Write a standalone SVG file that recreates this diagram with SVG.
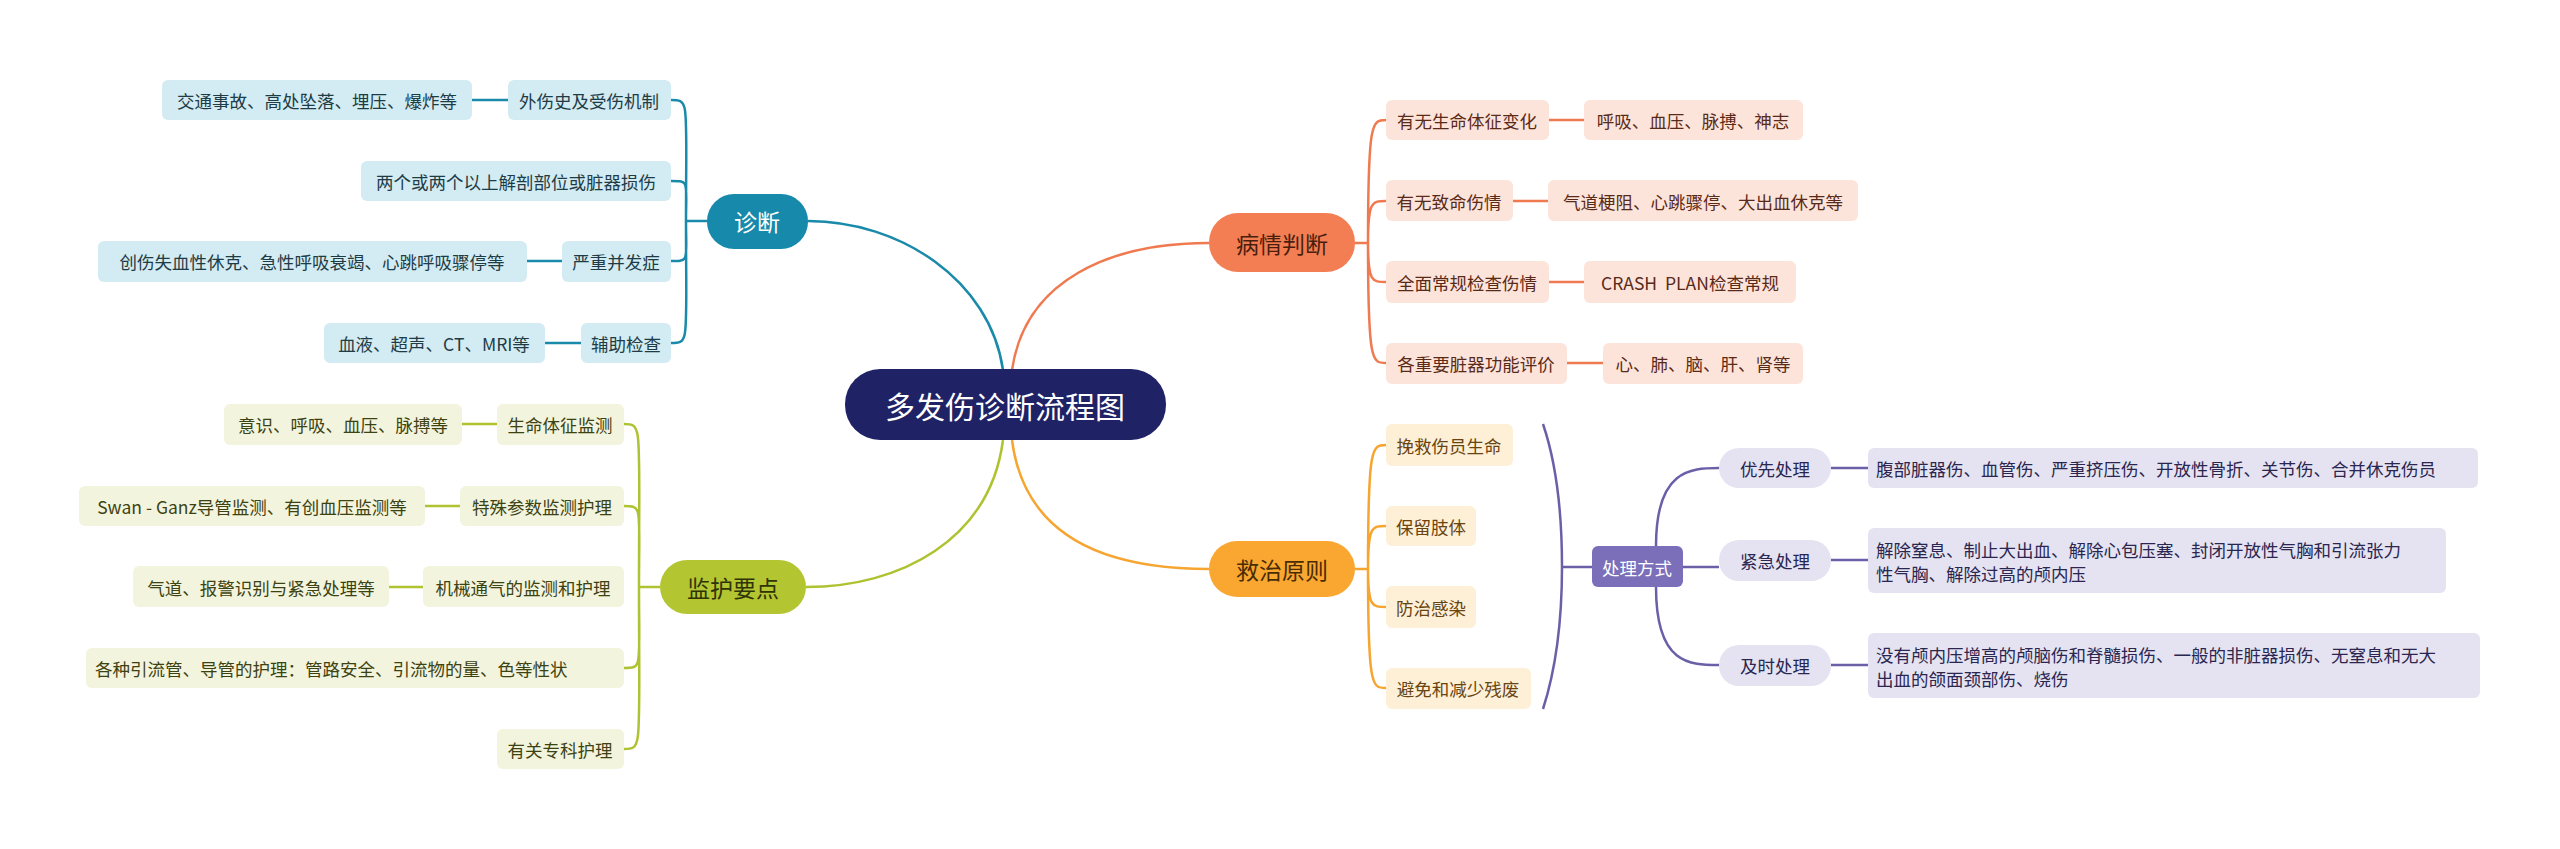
<svg xmlns="http://www.w3.org/2000/svg" width="2560" height="849" viewBox="0 0 2560 849">
<style>
text{font-family:"Noto Sans CJK SC","Noto Sans",sans-serif;font-size:17.5px;dominant-baseline:central}
text.big{font-size:30px}
text.mid{font-size:23px}
.c path{fill:none;stroke-width:2.5}
.bl{fill:#d3ebf2}.yl{fill:#f2f4dd}.rd{fill:#fde4da}.or{fill:#fdf0d7}.pu{fill:#e5e3f1}
.tb{fill:#1e3c46}.ty{fill:#3d4212}.tr{fill:#5a2a18}.to{fill:#6a4410}.tp{fill:#2a2650}
</style>
<rect width="2560" height="849" fill="#fff"/>
<g class="c">
<path d="M1003,370 C990,280 900,221 808,221" stroke="#1a8aaa"/>
<path d="M707,221 H686 M686,221 C686,100 690,100 671,100 M686,221 C686,181 690,181 671,181 M686,221 C686,261 690,261 671,261 M686,221 C686,343 690,343 671,343 M472,100 H508 M527,261 H562 M545,343 H581" stroke="#1a8aaa"/>
<path d="M1003,440 C990,540 900,587 806,587" stroke="#afc230"/>
<path d="M660,587 H639 M639,587 C639,424 643,424 624,424 M639,587 C639,506 643,506 624,506 M639,587 C639,668 643,668 624,668 M639,587 C639,749 643,749 624,749 M462,424 H497 M425,506 H460 M389,587 H423" stroke="#afc230"/>
<path d="M1012,370 C1025,280 1110,243 1209,243" stroke="#ef7a50"/>
<path d="M1355,243 H1368 M1368,243 C1368,120 1372,120 1386,120 M1368,243 C1368,201 1372,201 1386,201 M1368,243 C1368,282 1372,282 1386,282 M1368,243 C1368,363 1372,363 1386,363 M1549,120 H1584 M1513,201 H1548 M1549,282 H1584 M1567,363 H1603" stroke="#ef7a50"/>
<path d="M1012,440 C1025,540 1110,569 1209,569" stroke="#f5a530"/>
<path d="M1355,569 H1368 M1368,569 C1368,445 1372,445 1386,445 M1368,569 C1368,526 1372,526 1386,526 M1368,569 C1368,607 1372,607 1386,607 M1368,569 C1368,688 1372,688 1386,688" stroke="#f5a530"/>
<path d="M1543,424 Q1562,480 1562,567 Q1562,650 1543,709 M1562,567 H1592 M1683,567 H1719 M1656,546 C1656,470 1690,468 1719,468 M1656,587 C1656,665 1690,665 1719,665 M1831,468 H1868 M1831,560 H1868 M1831,665 H1868" stroke="#6a60a8"/>
</g>
<g id="center"><rect x="845" y="369" width="321" height="71" rx="35" fill="#1f2366"/><text class="big" x="1005" y="405" text-anchor="middle" fill="#fff">多发伤诊断流程图</text></g>
<g id="diag"><rect x="707" y="194" width="101" height="55" rx="27" fill="#1789aa"/><text class="mid" x="757" y="221" text-anchor="middle" fill="#fff">诊断</text></g>
<g id="d1"><rect class="bl" x="508" y="80" width="163" height="40" rx="6"/><text class="tb" x="589" y="100" text-anchor="middle">外伤史及受伤机制</text></g>
<g id="d1a"><rect class="bl" x="162" y="80" width="310" height="40" rx="6"/><text class="tb" x="317" y="100" text-anchor="middle">交通事故、高处坠落、埋压、爆炸等</text></g>
<g id="d2"><rect class="bl" x="361" y="161" width="310" height="40" rx="6"/><text class="tb" x="516" y="181" text-anchor="middle">两个或两个以上解剖部位或脏器损伤</text></g>
<g id="d3"><rect class="bl" x="562" y="241" width="109" height="41" rx="6"/><text class="tb" x="616" y="261" text-anchor="middle">严重并发症</text></g>
<g id="d3a"><rect class="bl" x="98" y="241" width="429" height="41" rx="6"/><text class="tb" x="312" y="261" text-anchor="middle">创伤失血性休克、急性呼吸衰竭、心跳呼吸骤停等</text></g>
<g id="d4"><rect class="bl" x="581" y="323" width="90" height="40" rx="6"/><text class="tb" x="626" y="343" text-anchor="middle">辅助检查</text></g>
<g id="d4a"><rect class="bl" x="324" y="323" width="221" height="40" rx="6"/><text class="tb" x="434" y="343" text-anchor="middle">血液、超声、CT、MRI等</text></g>
<g id="mon"><rect x="660" y="560" width="146" height="54" rx="27" fill="#b3c631"/><text class="mid" x="733" y="587" text-anchor="middle" fill="#2f3308">监护要点</text></g>
<g id="m1"><rect class="yl" x="497" y="404" width="127" height="41" rx="6"/><text class="ty" x="560" y="424" text-anchor="middle">生命体征监测</text></g>
<g id="m1a"><rect class="yl" x="224" y="404" width="238" height="41" rx="6"/><text class="ty" x="343" y="424" text-anchor="middle">意识、呼吸、血压、脉搏等</text></g>
<g id="m2"><rect class="yl" x="460" y="486" width="164" height="40" rx="6"/><text class="ty" x="542" y="506" text-anchor="middle">特殊参数监测护理</text></g>
<g id="m2a"><rect class="yl" x="79" y="486" width="346" height="40" rx="6"/><text class="ty" x="252" y="506" text-anchor="middle">Swan - Ganz导管监测、有创血压监测等</text></g>
<g id="m3"><rect class="yl" x="423" y="566" width="201" height="41" rx="6"/><text class="ty" x="523" y="587" text-anchor="middle">机械通气的监测和护理</text></g>
<g id="m3a"><rect class="yl" x="133" y="566" width="256" height="41" rx="6"/><text class="ty" x="261" y="587" text-anchor="middle">气道、报警识别与紧急处理等</text></g>
<g id="m4"><rect class="yl" x="86" y="648" width="538" height="40" rx="6"/><text class="ty" x="95" y="668">各种引流管、导管的护理：管路安全、引流物的量、色等性状</text></g>
<g id="m5"><rect class="yl" x="497" y="729" width="127" height="40" rx="6"/><text class="ty" x="560" y="749" text-anchor="middle">有关专科护理</text></g>
<g id="judge"><rect x="1209" y="213" width="146" height="59" rx="29" fill="#f47e54"/><text class="mid" x="1282" y="243" text-anchor="middle" fill="#4a1e0c">病情判断</text></g>
<g id="j1"><rect class="rd" x="1386" y="100" width="163" height="40" rx="6"/><text class="tr" x="1467" y="120" text-anchor="middle">有无生命体征变化</text></g>
<g id="j1a"><rect class="rd" x="1584" y="100" width="219" height="40" rx="6"/><text class="tr" x="1693" y="120" text-anchor="middle">呼吸、血压、脉搏、神志</text></g>
<g id="j2"><rect class="rd" x="1386" y="180" width="127" height="41" rx="6"/><text class="tr" x="1449" y="201" text-anchor="middle">有无致命伤情</text></g>
<g id="j2a"><rect class="rd" x="1548" y="180" width="310" height="41" rx="6"/><text class="tr" x="1703" y="201" text-anchor="middle">气道梗阻、心跳骤停、大出血休克等</text></g>
<g id="j3"><rect class="rd" x="1386" y="261" width="163" height="42" rx="6"/><text class="tr" x="1467" y="282" text-anchor="middle">全面常规检查伤情</text></g>
<g id="j3a"><rect class="rd" x="1584" y="261" width="212" height="42" rx="6"/><text class="tr" x="1690" y="282" text-anchor="middle" xml:space="preserve">CRASH  PLAN检查常规</text></g>
<g id="j4"><rect class="rd" x="1386" y="343" width="181" height="41" rx="6"/><text class="tr" x="1476" y="363" text-anchor="middle">各重要脏器功能评价</text></g>
<g id="j4a"><rect class="rd" x="1603" y="343" width="200" height="41" rx="6"/><text class="tr" x="1703" y="363" text-anchor="middle">心、肺、脑、肝、肾等</text></g>
<g id="treat"><rect x="1209" y="541" width="146" height="56" rx="28" fill="#f9a730"/><text class="mid" x="1282" y="569" text-anchor="middle" fill="#4a2c04">救治原则</text></g>
<g id="t1"><rect class="or" x="1386" y="424" width="127" height="42" rx="6"/><text class="to" x="1449" y="445" text-anchor="middle">挽救伤员生命</text></g>
<g id="t2"><rect class="or" x="1386" y="506" width="90" height="40" rx="6"/><text class="to" x="1431" y="526" text-anchor="middle">保留肢体</text></g>
<g id="t3"><rect class="or" x="1386" y="586" width="90" height="42" rx="6"/><text class="to" x="1431" y="607" text-anchor="middle">防治感染</text></g>
<g id="t4"><rect class="or" x="1386" y="668" width="145" height="41" rx="6"/><text class="to" x="1458" y="688" text-anchor="middle">避免和减少残废</text></g>
<g id="way"><rect x="1592" y="546" width="91" height="41" rx="6" fill="#7a6fb8"/><text x="1637" y="567" text-anchor="middle" fill="#fff">处理方式</text></g>
<g id="w1"><rect class="pu" x="1719" y="448" width="112" height="40" rx="20"/><text class="tp" x="1775" y="468" text-anchor="middle">优先处理</text></g>
<g id="w1a"><rect class="pu" x="1868" y="448" width="610" height="40" rx="6"/><text class="tp" x="1876" y="468">腹部脏器伤、血管伤、严重挤压伤、开放性骨折、关节伤、合并休克伤员</text></g>
<g id="w2"><rect class="pu" x="1719" y="540" width="112" height="41" rx="20"/><text class="tp" x="1775" y="560" text-anchor="middle">紧急处理</text></g>
<g id="w2a"><rect class="pu" x="1868" y="528" width="578" height="65" rx="6"/><text class="tp" x="1876" y="549">解除窒息、制止大出血、解除心包压塞、封闭开放性气胸和引流张力</text><text class="tp" x="1876" y="573">性气胸、解除过高的颅内压</text></g>
<g id="w3"><rect class="pu" x="1719" y="645" width="112" height="41" rx="20"/><text class="tp" x="1775" y="665" text-anchor="middle">及时处理</text></g>
<g id="w3a"><rect class="pu" x="1868" y="633" width="612" height="65" rx="6"/><text class="tp" x="1876" y="654">没有颅内压增高的颅脑伤和脊髓损伤、一般的非脏器损伤、无窒息和无大</text><text class="tp" x="1876" y="678">出血的颌面颈部伤、烧伤</text></g>
</svg>
